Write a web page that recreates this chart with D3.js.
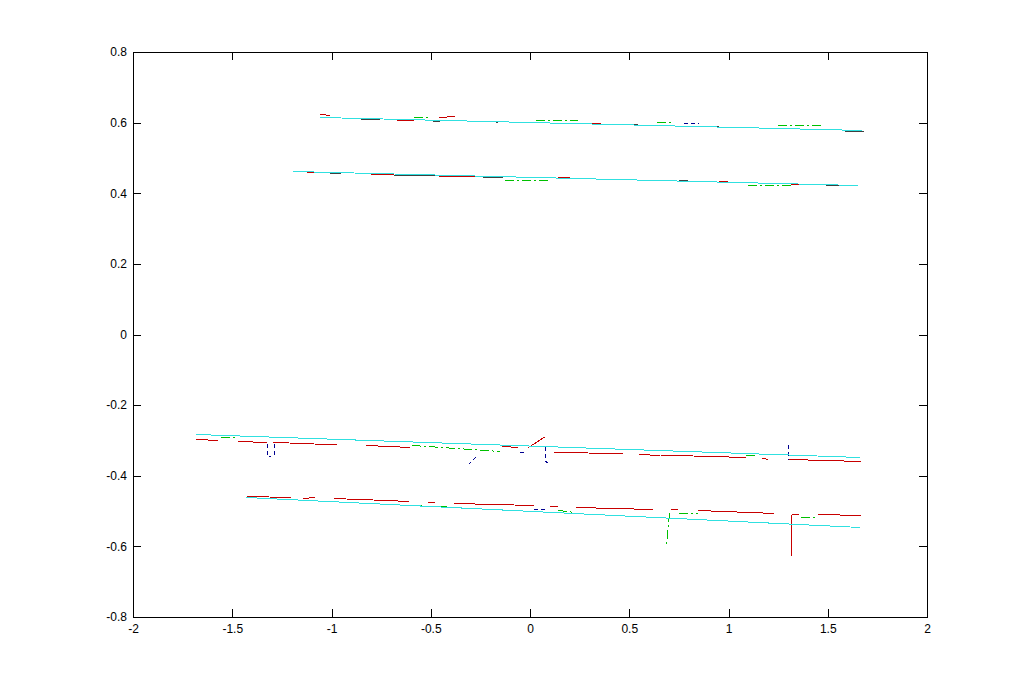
<!DOCTYPE html>
<html>
<head>
<meta charset="utf-8">
<script src="https://cdn.jsdelivr.net/npm/d3@7"></script>
<style>
  html, body { margin: 0; padding: 0; background: #fff; }
  svg { display: block; }
</style>
</head>
<body>
<svg id="chart" width="1024" height="694"></svg>
<script>
// ---- data (x1,y1,x2,y2,... polylines in data units) ----
const xTicks = [-2, -1.5, -1, -0.5, 0, 0.5, 1, 1.5, 2];
const yTicks = [-0.8, -0.6, -0.4, -0.2, 0, 0.2, 0.4, 0.6, 0.8];

const cyanLines = [
  [-1.058, 0.616, 1.673, 0.578],
  [-1.194, 0.463, 1.652, 0.423],
  [-1.683, -0.282, 1.662, -0.347],
  [-1.431, -0.460, 1.662, -0.545]
];

const graySegs = [
  [-0.856, 0.610, -0.761, 0.610],
  [-0.494, 0.605, -0.458, 0.605],
  [-0.176, 0.602, -0.166, 0.602],
  [0.413, 0.596, 0.539, 0.596],
  [0.851, 0.591, 0.947, 0.591],
  [1.194, 0.585, 1.239, 0.585],
  [1.582, 0.577, 1.678, 0.577],
  [-1.013, 0.457, -0.957, 0.457],
  [-0.690, 0.452, -0.474, 0.452],
  [-0.242, 0.446, -0.141, 0.446],
  [0.353, 0.441, 0.393, 0.440],
  [0.746, 0.438, 0.791, 0.438],
  [1.486, 0.424, 1.557, 0.424]
];

const redSegs = [
  [-1.058, 0.624, -1.008, 0.622],
  [-0.675, 0.608, -0.589, 0.608],
  [-0.458, 0.616, -0.378, 0.618],
  [0.247, 0.599, 0.353, 0.599],
  [0.605, 0.593, 0.630, 0.593],
  [0.997, 0.588, 1.144, 0.588],
  [1.451, 0.582, 1.567, 0.582],
  [-1.128, 0.460, -1.083, 0.460],
  [-0.806, 0.455, -0.690, 0.455],
  [-0.463, 0.449, -0.272, 0.449],
  [0.136, 0.446, 0.196, 0.446],
  [0.544, 0.438, 0.594, 0.438],
  [0.947, 0.435, 0.992, 0.435],
  [1.310, 0.426, 1.355, 0.426],
  [-1.683, -0.296, -1.572, -0.299],
  [-1.471, -0.302, -1.325, -0.305],
  [-1.300, -0.304, -1.219, -0.304],
  [-1.209, -0.307, -0.972, -0.310],
  [-0.826, -0.313, -0.605, -0.319],
  [-0.141, -0.316, -0.060, -0.319],
  [-0.010, -0.319, 0.076, -0.287],
  [0.116, -0.333, 0.287, -0.333],
  [0.292, -0.336, 0.463, -0.336],
  [0.549, -0.338, 0.655, -0.341],
  [0.655, -0.341, 0.816, -0.341],
  [0.821, -0.344, 0.997, -0.344],
  [0.997, -0.347, 1.083, -0.347],
  [1.169, -0.350, 1.199, -0.353],
  [1.300, -0.353, 1.395, -0.353],
  [1.395, -0.355, 1.577, -0.355],
  [1.577, -0.358, 1.662, -0.358],
  [-1.431, -0.457, -1.320, -0.457],
  [-1.315, -0.460, -1.209, -0.460],
  [-1.144, -0.463, -1.083, -0.461],
  [-0.992, -0.463, -0.932, -0.463],
  [-0.927, -0.466, -0.796, -0.466],
  [-0.791, -0.469, -0.670, -0.469],
  [-0.670, -0.472, -0.615, -0.472],
  [-0.519, -0.474, -0.484, -0.474],
  [-0.388, -0.477, -0.282, -0.477],
  [-0.282, -0.480, -0.086, -0.480],
  [-0.081, -0.483, 0.015, -0.483],
  [0.096, -0.486, 0.136, -0.486],
  [0.227, -0.489, 0.327, -0.489],
  [0.327, -0.491, 0.519, -0.491],
  [0.519, -0.494, 0.615, -0.494],
  [0.705, -0.494, 0.741, -0.494],
  [0.841, -0.497, 0.907, -0.497],
  [0.907, -0.500, 1.038, -0.500],
  [1.038, -0.503, 1.169, -0.503],
  [1.169, -0.506, 1.224, -0.506],
  [1.315, -0.508, 1.350, -0.508],
  [1.315, -0.508, 1.315, -0.625],
  [1.446, -0.508, 1.557, -0.508],
  [1.557, -0.511, 1.662, -0.511]
];

const greenSegs = [
  [-0.589, 0.616, -0.504, 0.616],
  [0.025, 0.607, 0.237, 0.607],
  [0.635, 0.602, 0.715, 0.602],
  [1.244, 0.593, 1.461, 0.593],
  [-0.131, 0.438, 0.086, 0.438],
  [1.093, 0.424, 1.310, 0.424],
  [-1.562, -0.290, -1.476, -0.290],
  [-0.594, -0.313, -0.151, -0.330],
  [1.083, -0.340, 1.134, -0.340],
  [-0.594, -0.483, -0.544, -0.483],
  [-0.469, -0.486, -0.418, -0.486],
  [0.141, -0.497, 0.227, -0.502],
  [0.700, -0.506, 0.685, -0.600],
  [0.746, -0.506, 0.841, -0.506],
  [1.360, -0.517, 1.446, -0.517]
];

const blueSegs = [
  [0.771, 0.599, 0.846, 0.599],
  [-1.325, -0.307, -1.325, -0.344, -1.310, -0.344],
  [-1.290, -0.307, -1.290, -0.344],
  [-0.312, -0.367, -0.277, -0.347],
  [-0.055, -0.333, -0.020, -0.333],
  [0.076, -0.316, 0.076, -0.359, 0.096, -0.363],
  [1.300, -0.310, 1.300, -0.353],
  [0.015, -0.494, 0.086, -0.494]
];

// ---- layout ----
const mLeft = 133, mRight = 927, mTop = 52, mBottom = 617;
const svg = d3.select("#chart");
const x = d3.scaleLinear().domain([-2, 2]).range([mLeft, mRight]);
const y = d3.scaleLinear().domain([-0.8, 0.8]).range([mBottom, mTop]);

const toPts = a => { const p = []; for (let i = 0; i < a.length; i += 2) p.push([a[i], a[i + 1]]); return p; };
const line = d3.line().x(d => Math.round(x(d[0])) + 0.5).y(d => Math.round(y(d[1])) + 0.5);

function drawSet(data, color, dash) {
  svg.append("g").selectAll("path").data(data).join("path")
    .attr("d", d => line(toPts(d)))
    .attr("fill", "none")
    .attr("stroke", color)
    .attr("stroke-width", 1)
    .attr("stroke-dasharray", dash || null)
    .attr("shape-rendering", "crispEdges");
}

drawSet(graySegs, "#404040");
drawSet(redSegs, "#c80000");
drawSet(greenSegs, "#00c000", "9,3,2,3");
drawSet(blueSegs, "#000090", "4,3");
drawSet(cyanLines, "#30e0e0");

// ---- axes (MATLAB style, ticks inward, box) ----
const tl = 8;
const fmt = d => String(d);
svg.append("g").attr("transform", `translate(0,${mBottom})`)
  .call(d3.axisBottom(x).tickValues(xTicks).tickSizeInner(-tl).tickSizeOuter(0).tickPadding(7).tickFormat(fmt))
  .call(g => g.select(".domain").remove());
svg.append("g").attr("transform", `translate(${mLeft},0)`)
  .call(d3.axisLeft(y).tickValues(yTicks).tickSizeInner(-tl).tickSizeOuter(0).tickPadding(6).tickFormat(fmt))
  .call(g => g.select(".domain").remove());
svg.append("g").attr("transform", `translate(0,${mTop})`)
  .call(d3.axisTop(x).tickValues(xTicks).tickSizeInner(-tl).tickSizeOuter(0).tickFormat(""))
  .call(g => g.select(".domain").remove());
svg.append("g").attr("transform", `translate(${mRight},0)`)
  .call(d3.axisRight(y).tickValues(yTicks).tickSizeInner(-tl).tickSizeOuter(0).tickFormat(""))
  .call(g => g.select(".domain").remove());
svg.selectAll(".tick line").attr("stroke", "#000").attr("shape-rendering", "crispEdges");
svg.selectAll(".tick text")
  .attr("font-family", "'Liberation Sans', Arial, sans-serif")
  .attr("font-size", 12)
  .attr("fill", "#000");

svg.append("rect")
  .attr("x", mLeft + 0.5).attr("y", mTop + 0.5)
  .attr("width", mRight - mLeft).attr("height", mBottom - mTop)
  .attr("fill", "none").attr("stroke", "#000").attr("stroke-width", 1)
  .attr("shape-rendering", "crispEdges");
</script>
</body>
</html>
